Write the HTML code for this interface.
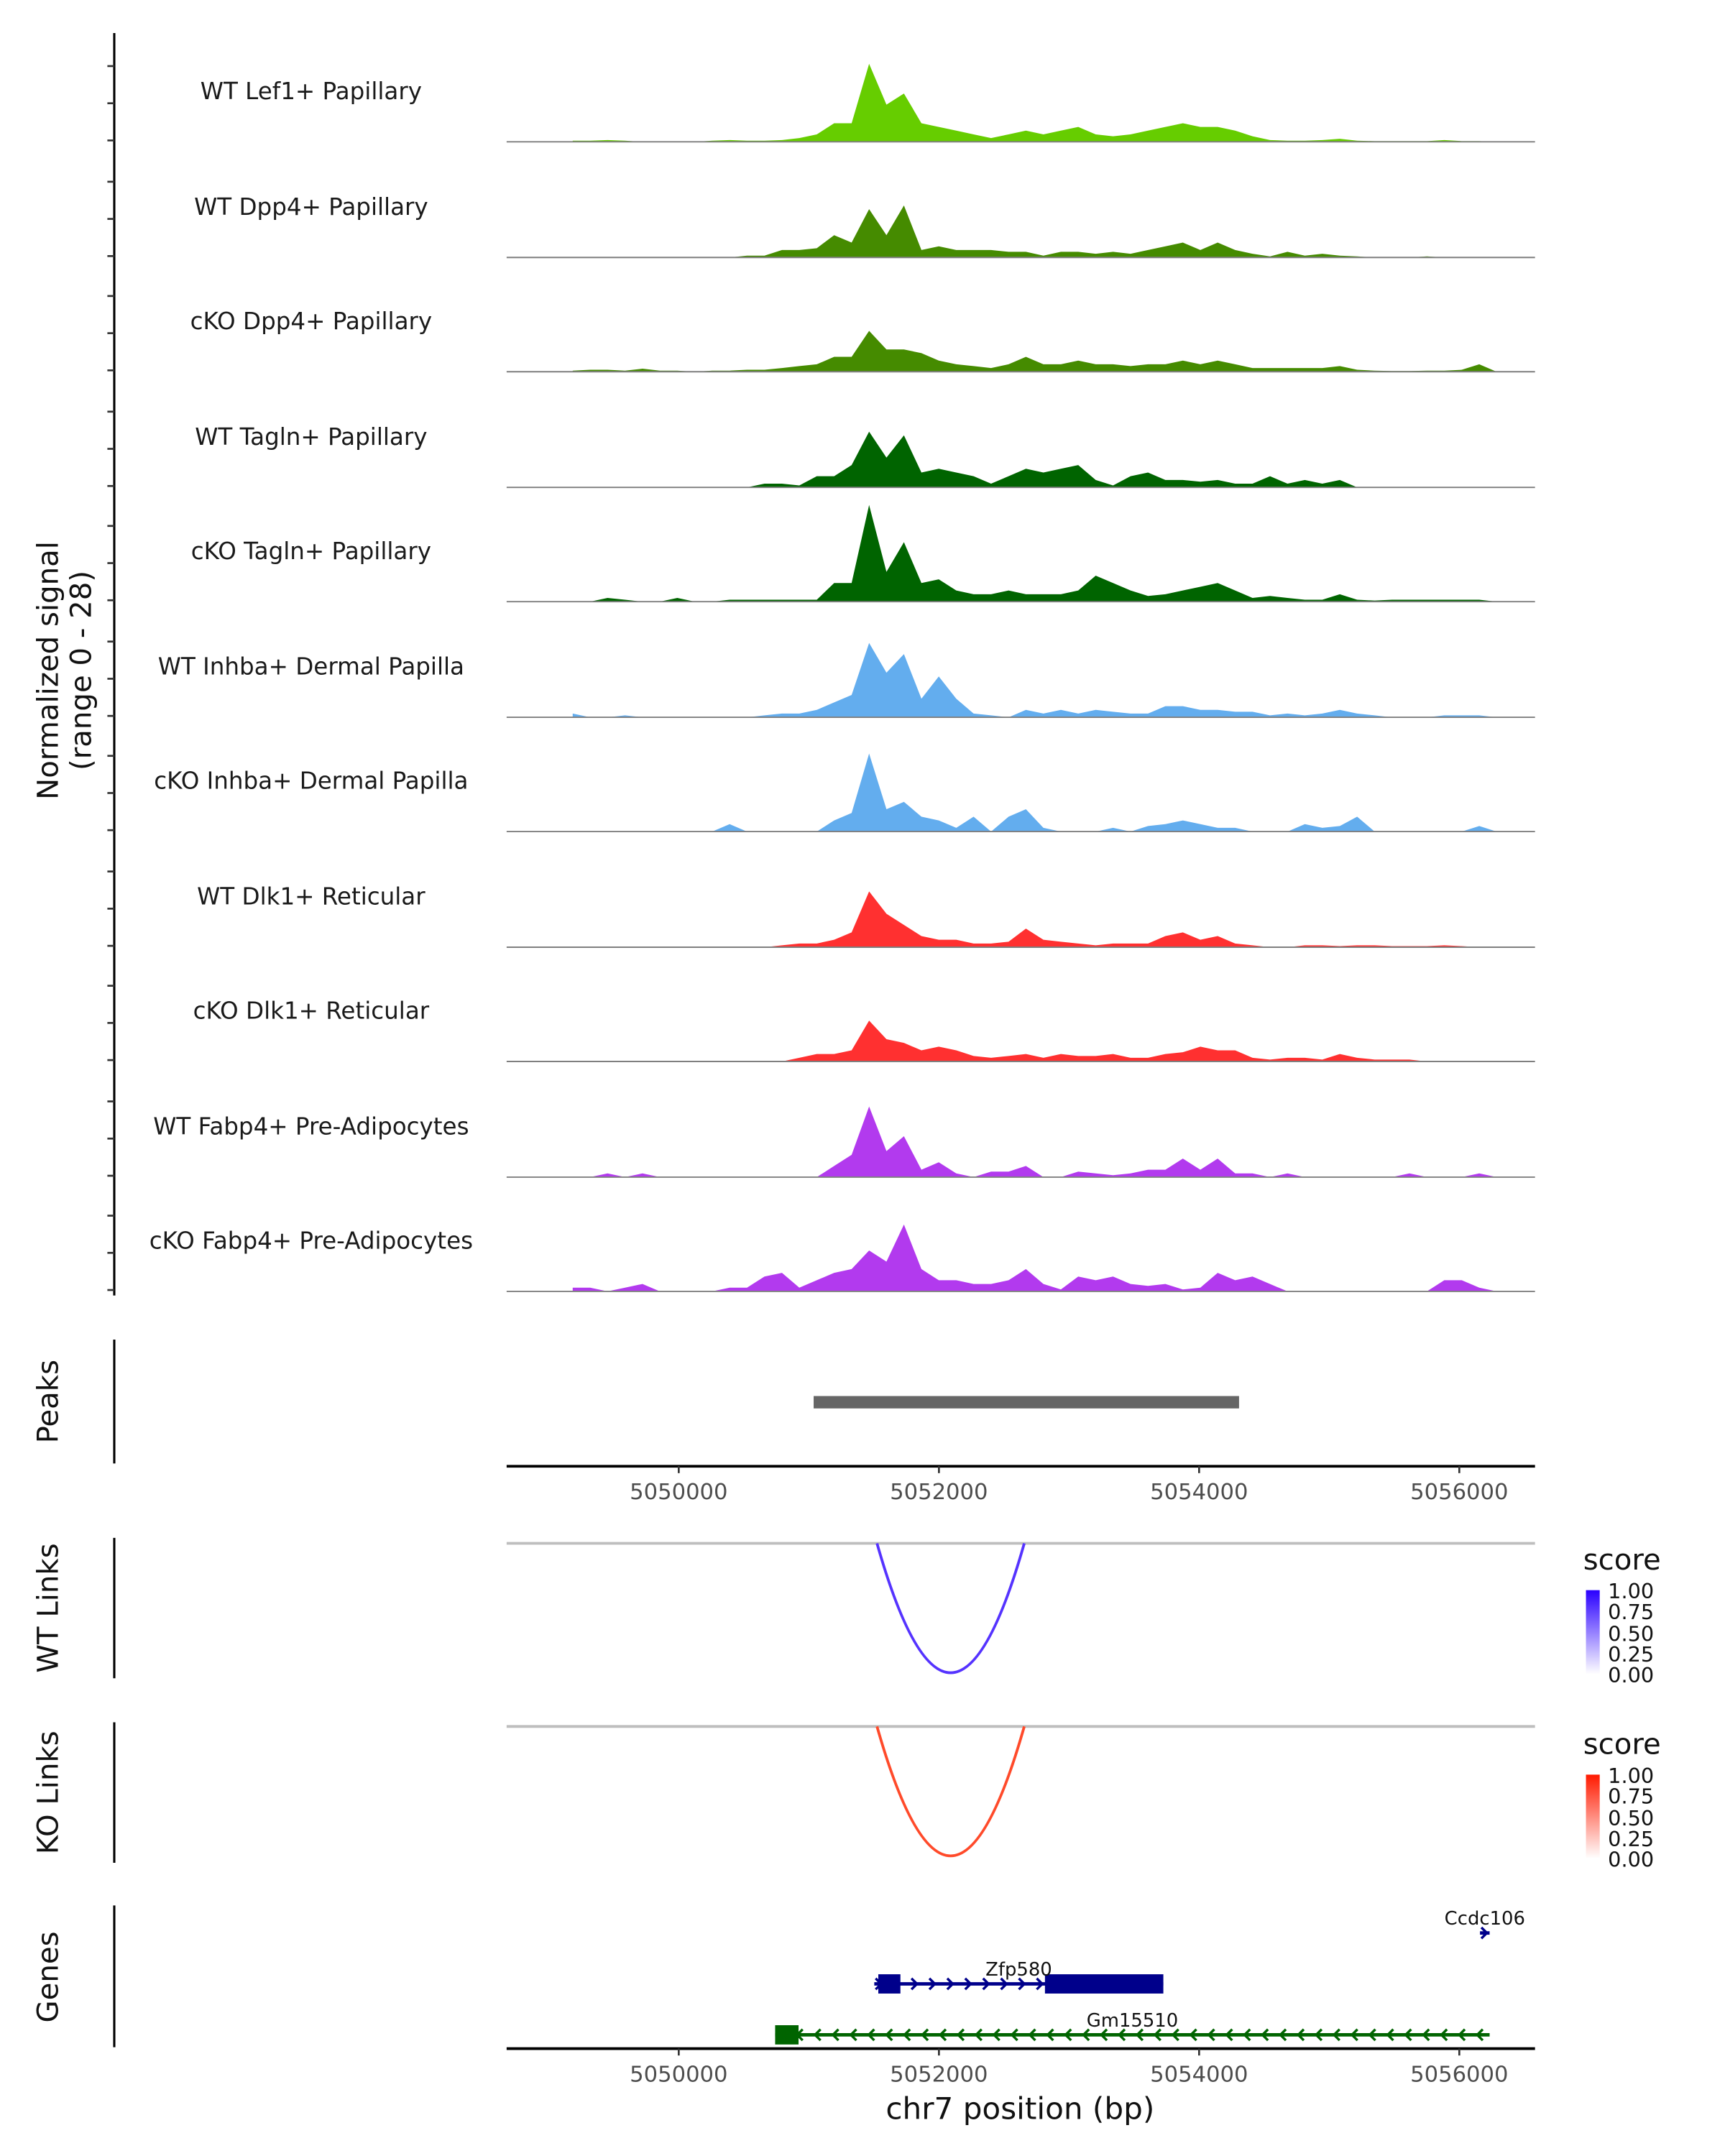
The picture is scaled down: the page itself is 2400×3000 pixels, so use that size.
<!DOCTYPE html>
<html><head><meta charset="utf-8"><style>
html,body{margin:0;padding:0;background:#fff}
svg{display:block}
text{font-family:"DejaVu Sans","Liberation Sans",sans-serif}
</style></head><body>
<svg id="chart" width="2400" height="3000" viewBox="0 0 1253 1566" preserveAspectRatio="none" xmlns="http://www.w3.org/2000/svg">
<rect width="1260" height="1570" fill="#fff"/>
<g id="tracks"></g>
<line x1="83" y1="24" x2="83" y2="941" stroke="#000" stroke-width="1.6"/>
<g id="yticks"></g>
<text transform="translate(42,487) rotate(-90)" text-anchor="middle" font-size="21" fill="#111">Normalized signal</text>
<text transform="translate(66,487) rotate(-90)" text-anchor="middle" font-size="21" fill="#111">(range 0 - 28)</text>

<line x1="83" y1="973" x2="83" y2="1063" stroke="#000" stroke-width="1.6"/>
<text transform="translate(42,1018) rotate(-90)" text-anchor="middle" font-size="21" fill="#111">Peaks</text>
<g id="peaks"></g>
<g id="xaxis1"></g>

<line x1="83" y1="1117" x2="83" y2="1219" stroke="#000" stroke-width="1.6"/>
<text transform="translate(42,1168) rotate(-90)" text-anchor="middle" font-size="21" fill="#111">WT Links</text>
<line x1="368" y1="1121" x2="1115" y2="1121" stroke="#bebebe" stroke-width="2"/>
<g id="wtlink"></g>

<line x1="83" y1="1251" x2="83" y2="1353" stroke="#000" stroke-width="1.6"/>
<text transform="translate(42,1302) rotate(-90)" text-anchor="middle" font-size="21" fill="#111">KO Links</text>
<line x1="368" y1="1254" x2="1115" y2="1254" stroke="#bebebe" stroke-width="2"/>
<g id="kolink"></g>

<defs>
<linearGradient id="gblue" x1="0" y1="1" x2="0" y2="0"><stop offset="0" stop-color="#fff"/><stop offset="1" stop-color="#2a00ff"/></linearGradient>
<linearGradient id="gred" x1="0" y1="1" x2="0" y2="0"><stop offset="0" stop-color="#fff"/><stop offset="1" stop-color="#ff1a00"/></linearGradient>
</defs>
<g>
<text x="1150" y="1140" font-size="21" fill="#111">score</text>
<rect x="1152" y="1155" width="10" height="61" fill="url(#gblue)"/>
<g font-size="15" fill="#111"><text x="1168" y="1161">1.00</text><text x="1168" y="1176">0.75</text><text x="1168" y="1192">0.50</text><text x="1168" y="1207">0.25</text><text x="1168" y="1222">0.00</text></g>
</g>
<g>
<text x="1150" y="1274" font-size="21" fill="#111">score</text>
<rect x="1152" y="1289" width="10" height="61" fill="url(#gred)"/>
<g font-size="15" fill="#111"><text x="1168" y="1295">1.00</text><text x="1168" y="1310">0.75</text><text x="1168" y="1326">0.50</text><text x="1168" y="1341">0.25</text><text x="1168" y="1356">0.00</text></g>
</g>

<line x1="83" y1="1384" x2="83" y2="1487" stroke="#000" stroke-width="1.6"/>
<text transform="translate(42,1436) rotate(-90)" text-anchor="middle" font-size="21" fill="#111">Genes</text>
<g id="genes"></g>
<g id="xaxis2"></g>
<text x="741" y="1539" text-anchor="middle" font-size="22" fill="#111">chr7 position (bp)</text>
</svg>
<script>
const trackNames = ["WT Lef1+ Papillary","WT Dpp4+ Papillary","cKO Dpp4+ Papillary","WT Tagln+ Papillary","cKO Tagln+ Papillary","WT Inhba+ Dermal Papilla","cKO Inhba+ Dermal Papilla","WT Dlk1+ Reticular","cKO Dlk1+ Reticular","WT Fabp4+ Pre-Adipocytes","cKO Fabp4+ Pre-Adipocytes"];
const trackColors = ["#66cd00","#458b00","#458b00","#006400","#006400","#63adee","#63adee","#ff3030","#ff3030","#b23aee","#b23aee"];
const binStart = 5049118, binSize = 134;
const sigLef1 = [0.3,0.3,0.5,0.3,0,0,0,0,0.3,0.5,0.3,0.3,0.5,1,2,5,5,21,10,13,5,4,3,2,1,2,3,2,3,4,2,1.5,2,3,4,5,4,4,3,1.5,0.5,0.3,0.3,0.5,0.8,0.3,0.2,0.2,0.2,0.2,0.5,0.2,0.2,0];
const sigDpp4WT = [0,0,0,0,0,0,0,0,0,0,0.5,0.5,2,2,2.5,6,4,13,6,14,2,3,2,2,2,1.5,1.5,0.5,1.5,1.5,1,1.5,1,2,3,4,2,4,2,1,0.3,1.5,0.5,1,0.5,0.3,0,0,0,0.3,0,0,0,0];
const sigDpp4KO = [0.3,0.5,0.5,0.3,0.8,0.3,0.3,0,0.3,0.3,0.5,0.5,1,1.5,2,4,4,11,6,6,5,3,2,1.5,1,2,4,2,2,3,2,2,1.5,2,2,3,2,3,2,1,1,1,1,1,1.5,0.5,0.3,0.2,0.2,0.3,0.3,0.5,2,0];
const sigTaglnWT = [0,0,0,0,0,0,0,0,0,0,0,1,1,0.5,3,3,6,15,8,14,4,5,4,3,1,3,5,4,5,6,2,0.5,3,4,2,2,1.5,2,1,1,3,1,2,1,2,0,0,0,0,0,0,0,0,0];
const sigTaglnKO = [0,0,1,0.5,0,0,1,0,0,0.5,0.5,0.5,0.5,0.5,0.5,5,5,26,8,16,5,6,3,2,2,3,2,2,2,3,7,5,3,1.5,2,3,4,5,3,1,1.5,1,0.5,0.5,2,0.5,0.3,0.5,0.5,0.5,0.5,0.5,0.5,0];
const sigInhbaWT = [1,0,0,0.5,0,0,0,0,0,0,0,0.5,1,1,2,4,6,20,12,17,5,11,5,1,0.5,0,2,1,2,1,2,1.5,1,1,3,3,2,2,1.5,1.5,0.5,1,0.5,1,2,1,0.5,0,0,0,0.5,0.5,0.5,0];
const sigInhbaKO = [0,0,0,0,0,0,0,0,0,2,0,0,0,0,0,3,5,21,6,8,4,3,1,4,0,4,6,1,0,0,0,1,0,1.5,2,3,2,1,1,0,0,0,2,1,1.5,4,0,0,0,0,0,0,1.5,0];
const sigDlk1WT = [0,0,0,0,0,0,0,0,0,0,0,0,0.5,1,1,2,4,15,9,6,3,2,2,1,1,1.5,5,2,1.5,1,0.5,1,1,1,3,4,2,3,1,0.5,0,0,0.5,0.5,0.3,0.5,0.5,0.3,0.3,0.3,0.5,0.3,0,0];
const sigDlk1KO = [0.2,0.2,0.2,0.2,0.2,0.2,0.2,0,0,0,0,0,0,1,2,2,3,11,6,5,3,4,3,1.5,1,1.5,2,1,2,1.5,1.5,2,1,1,2,2.5,4,3,3,1,0.5,1,1,0.5,2,1,0.5,0.5,0.5,0,0,0,0,0];
const sigFabp4WT = [0,0,1,0,1,0,0,0,0,0,0,0,0,0,0,3,6,19,7,11,2,4,1,0,1.5,1.5,3,0,0,1.5,1,0.5,1,2,2,5,2,5,1,1,0,1,0,0,0,0,0,0,1,0,0,0,1,0];
const sigFabp4KO = [1,1,0,1,2,0,0,0,0,1,1,4,5,1,3,5,6,11,8,18,6,3,3,2,2,3,6,2,0.5,4,3,4,2,1.5,2,0.5,1,5,3,4,2,0,0,0,0,0,0,0,0,0,3,3,1,0];
const signals = [sigLef1,sigDpp4WT,sigDpp4KO,sigTaglnWT,sigTaglnKO,sigInhbaWT,sigInhbaKO,sigDlk1WT,sigDlk1KO,sigFabp4WT,sigFabp4KO];
const yTickValues = [0,10,20];
const xTickValues = [5050000,5052000,5054000,5056000];
const peakStarts = [5051037];
const peakEnds = [5054307];
const wtLinkStart = [5051524]; const wtLinkEnd = [5052656]; const wtLinkScore = [0.75];
const koLinkStart = [5051524]; const koLinkEnd = [5052656]; const koLinkScore = [0.75];
const geneNames = ["Ccdc106","Zfp580","Gm15510"];
const geneStarts = [5056159,5051503,5050741];
const geneEnds = [5056233,5053725,5056233];
const geneStrands = [1,1,-1];
const geneColors = ["#00008b","#00008b","#006400"];
const geneExonStarts = [[5056159],[5051534,5052815],[5050741]];
const geneExonEnds = [[5056233],[5051704,5053725],[5050921]];

const NS="http://www.w3.org/2000/svg";
const X0=368,X1=1115,BP0=5048677,BP1=5056582;
function xs(bp){return X0+(bp-BP0)/(BP1-BP0)*(X1-X0);}
const baselines=[103,187,270,354,437,521,604,688,771,855,938];
const pxPerUnit=2.7;
function ys(v,b){return b-v*pxPerUnit;}
function mk(tag,attrs,parent){const e=document.createElementNS(NS,tag);for(const k in attrs)e.setAttribute(k,attrs[k]);parent.appendChild(e);return e;}

const tg=document.getElementById('tracks'), yt=document.getElementById('yticks');
signals.forEach((arr,t)=>{
  const b=baselines[t];
  const g=mk('g',{},tg);
  
  
  let pts=[[xs(binStart+binSize/2),b]];
  arr.forEach((v,i)=>{pts.push([xs(binStart+binSize*i+binSize/2),ys(v,b)]);});
  pts.push([xs(binStart+binSize*(arr.length-1)+binSize/2),b]);
  const p=mk('polygon',{points:pts.map(p=>p[0].toFixed(1)+','+p[1].toFixed(1)).join(' '),fill:trackColors[t]},g);
  
  
  const l=mk('line',{x1:X0,x2:X1,y1:b,y2:b,stroke:'#7f7f7f','stroke-width':1},g);
  
  
  const tx=mk('text',{x:226,y:b-31,'text-anchor':'middle','font-size':17,fill:'#1a1a1a'},g);
  tx.textContent=trackNames[t];
  
  
  yTickValues.forEach(v=>{
    const k=mk('line',{x1:78,x2:83,y1:ys(v,b)-1,y2:ys(v,b)-1,stroke:'#333','stroke-width':1.4},yt);
    
    
  });
});

const pk=document.getElementById('peaks');
peakStarts.forEach((s,i)=>{
  const r=mk('rect',{x:xs(s),y:1014,width:xs(peakEnds[i])-xs(s),height:9,fill:'#666'},pk);
  
  
});

function xaxis(id,y){
  const g=document.getElementById(id);
  mk('line',{x1:X0,x2:X1,y1:y,y2:y,stroke:'#000','stroke-width':2},g);
  xTickValues.forEach(v=>{
    const k=mk('line',{x1:xs(v),x2:xs(v),y1:y,y2:y+5,stroke:'#333','stroke-width':1.4},g);
    
    
    const t=mk('text',{x:xs(v),y:y+24,'text-anchor':'middle','font-size':16,fill:'#4d4d4d'},g);
    t.textContent=v;
    
    
  });
}
xaxis('xaxis1',1065);
xaxis('xaxis2',1488);

function link(id,starts,ends,scores,top,bottom,col){
  const g=document.getElementById(id);
  starts.forEach((s,i)=>{
    const a=xs(s),b=xs(ends[i]),m=(a+b)/2,depth=(bottom-top)*scores[i]/0.75;
    const p=mk('path',{d:`M${a},${top} Q${m},${top+2*depth} ${b},${top}`,fill:'none',stroke:col,'stroke-width':2},g);
    
    
  });
}
link('wtlink',wtLinkStart,wtLinkEnd,wtLinkScore,1121,1215,'#5533ff');
link('kolink',koLinkStart,koLinkEnd,koLinkScore,1254,1348,'#ff4a2a');

const gg=document.getElementById('genes');
const geneY=[1404,1441,1478];
geneNames.forEach((n,i)=>{
  const y=geneY[i],c=geneColors[i];
  const g=mk('g',{},gg);
  
  
  mk('line',{x1:xs(geneStarts[i]),x2:xs(geneEnds[i]),y1:y,y2:y,stroke:c,'stroke-width':2.5},g);
  const step=13;
  for(let x=xs(geneStarts[i])+4;x<=xs(geneEnds[i]);x+=step){
    const d=geneStrands[i]>0?`M${x-3},${y-4} L${x+1},${y} L${x-3},${y+4}`:`M${x+3},${y-4} L${x-1},${y} L${x+3},${y+4}`;
    mk('path',{d:d,fill:'none',stroke:c,'stroke-width':1.8},g);
  }
  geneExonStarts[i].forEach((s,j)=>{
    if(geneExonEnds[i][j]-s<100) return;
    mk('rect',{x:xs(s),y:y-7,width:xs(geneExonEnds[i][j])-xs(s),height:14,fill:c},g);
  });
  const lx=(xs(geneStarts[i])+xs(geneEnds[i]))/2;
  const t=mk('text',{x:lx,y:y-6,'text-anchor':'middle','font-size':13.5,fill:'#111'},g);
  t.textContent=n;
  
  
});
</script>
</body></html>
